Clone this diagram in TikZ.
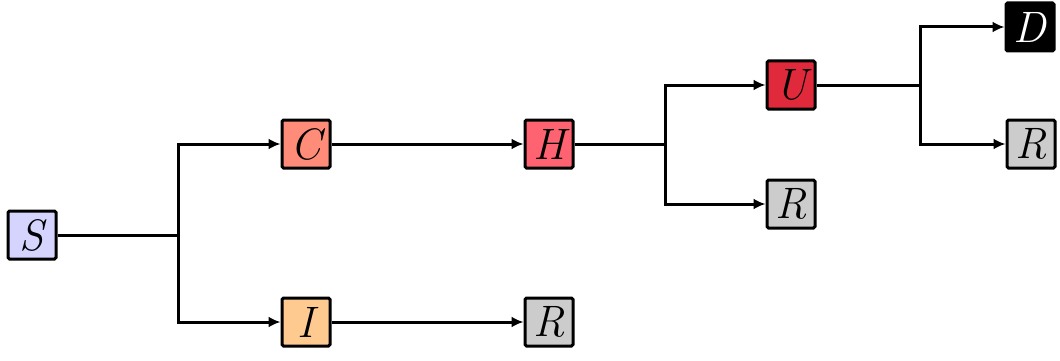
\documentclass[tikz,border=0pt]{standalone}
\usetikzlibrary{arrows.meta}
\definecolor{cS}{HTML}{D4D4FF}
\definecolor{cC}{HTML}{FF8C78}
\definecolor{cH}{HTML}{FF6270}
\definecolor{cU}{HTML}{E02A3C}
\definecolor{cI}{HTML}{FFCA90}
\definecolor{cR}{HTML}{CCCCCC}
\begin{document}
\begin{tikzpicture}[x=1pt,y=-1pt,
  box/.style={draw=black,line width=3pt,rounded corners=1.5pt,minimum width=48pt,minimum height=48pt,inner sep=0pt,font=\fontsize{44}{48}\selectfont\itshape},
  conn/.style={line width=3pt},
  arr/.style={line width=3pt,-{Latex[length=12pt,width=11pt]}}]
\useasboundingbox (0,0) rectangle (1060,361);
\node[box,fill=cS] (S) at (32,235) {S};
\node[box,fill=cC] (C) at (306,144) {C};
\node[box,fill=cI] (I) at (306,322) {I};
\node[box,fill=cH] (H) at (549,144) {H};
\node[box,fill=cR] (R1) at (549,322) {R};
\node[box,fill=cU] (U) at (791,85) {U};
\node[box,fill=cR] (R2) at (791,204) {R};
\node[box,fill=black,text=white] (D) at (1030,27) {D};
\node[box,fill=cR] (R3) at (1031,144) {R};
\coordinate (b1) at (178,235);
\coordinate (b2) at (665,144);
\coordinate (b3) at (920,85);
\draw[conn] (S) -- (b1);
\draw[arr] (b1) |- (C);
\draw[arr] (b1) |- (I);
\draw[arr] (C) -- (H);
\draw[arr] (I) -- (R1);
\draw[conn] (H) -- (b2);
\draw[arr] (b2) |- (U);
\draw[arr] (b2) |- (R2);
\draw[conn] (U) -- (b3);
\draw[arr] (b3) |- (D);
\draw[arr] (b3) |- (R3);
\end{tikzpicture}
\end{document}
